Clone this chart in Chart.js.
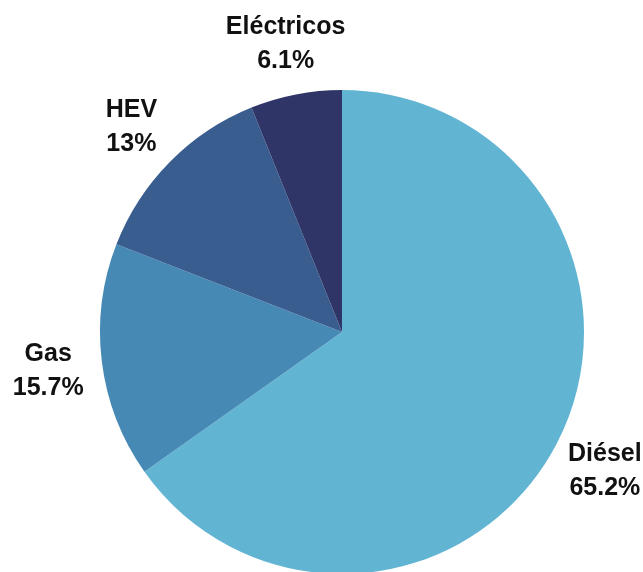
<!DOCTYPE html>
<html>
<head>
<meta charset="utf-8">
<script src="https://cdn.jsdelivr.net/npm/chart.js@4"></script>
<style>
  html, body { margin: 0; padding: 0; background: #fff; overflow: hidden; }
  #myChart { display: block; }
</style>
</head>
<body>
<canvas id="myChart" width="643" height="600"></canvas>
<script>
const categories = ['Diésel', 'Gas', 'HEV', 'Eléctricos'];
const shares = [65.2, 15.7, 13, 6.1];
const sliceColors = ['#62b4d3', '#4689b5', '#3a5d90', '#2f3566'];

// labels outside each slice: name on top, percent underneath
const outsideLabels = {
    id: 'outsideLabels',
    afterDatasetsDraw(chart) {
        const c = chart.ctx;
        const arcs = chart.getDatasetMeta(0).data;
        c.save();
        c.font = 'bold 25px "Liberation Sans", Arial, sans-serif';
        c.fillStyle = '#111';
        c.textAlign = 'center';
        c.textBaseline = 'middle';
        arcs.forEach(function (arc, i) {
            const mid = (arc.startAngle + arc.endAngle) / 2;
            const r = arc.outerRadius + 54;
            const x = arc.x + Math.cos(mid) * r;
            const y = arc.y + Math.sin(mid) * r + 3;
            c.fillText(categories[i], x, y - 17);
            c.fillText(shares[i] + '%', x, y + 17);
        });
        c.restore();
    }
};

const ctx = document.getElementById('myChart');
const myChart = new Chart(ctx, {
    type: 'pie',
    data: {
        labels: categories,
        datasets: [{
            data: shares,
            backgroundColor: sliceColors,
            borderWidth: 0
        }]
    },
    options: {
        responsive: false,
        animation: false,
        layout: {
            padding: { left: 100, right: 59, top: 90, bottom: 26 }
        },
        plugins: {
            legend: { display: false },
            tooltip: { enabled: false }
        }
    },
    plugins: [outsideLabels]
});
</script>
</body>
</html>
